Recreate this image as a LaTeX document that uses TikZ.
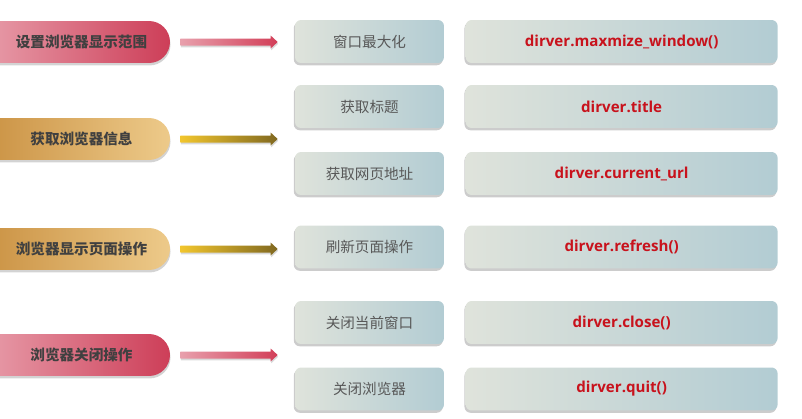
\documentclass[tikz,border=0pt]{standalone}
\usepackage{fontspec}
\setmainfont{Noto Sans CJK SC}
\newfontfamily\codefont{Open Sans}
\usetikzlibrary{positioning,calc,shadows}

\definecolor{redL}{RGB}{233,163,175}
\definecolor{redR}{RGB}{205,62,88}
\definecolor{goldL}{RGB}{200,142,62}
\definecolor{goldR}{RGB}{237,202,138}
\definecolor{arrRedL}{RGB}{232,160,172}
\definecolor{arrRedR}{RGB}{210,62,88}
\definecolor{arrGoldL}{RGB}{242,198,45}
\definecolor{arrGoldR}{RGB}{128,104,32}
\definecolor{boxL}{RGB}{223,227,219}
\definecolor{boxR}{RGB}{178,204,211}
\definecolor{txtgray}{RGB}{88,88,88}
\definecolor{codered}{RGB}{200,18,28}

\tikzset{
  pill/.style={rounded corners=0.42cm, minimum width=3.98cm, minimum height=0.84cm,
    font=\fontsize{8.3pt}{10pt}\selectfont\bfseries, text=black!75,
    execute at begin node=\hspace*{0.44cm},
    drop shadow={shadow xshift=0.3pt, shadow yshift=-1.4pt, opacity=0.35}},
  redpill/.style={pill, left color=redL, right color=redR},
  goldpill/.style={pill, left color=goldL, right color=goldR},
  stepbox/.style={rounded corners=0.12cm, minimum height=0.86cm,
    left color=boxL, right color=boxR,
    drop shadow={shadow xshift=-0.7pt, shadow yshift=-1.3pt, opacity=0.4}},
  actbox/.style={stepbox, minimum width=2.98cm, text=txtgray,
    font=\fontsize{8.3pt}{10pt}\selectfont},
  codebox/.style={stepbox, minimum width=6.24cm, text=codered,
    font=\fontsize{8.6pt}{10pt}\selectfont\codefont\bfseries}
}

% shaded arrow from a pill to the column of action boxes
\newcommand{\flowarrow}[4]{%
  \shade[left color=#3, right color=#4,
    drop shadow={shadow xshift=0.3pt, shadow yshift=-1pt, opacity=0.3}]
    ($(#1.east)+(10,-3.5)$) -- ($(#1.east -| #2.west)+(-24,-3.5)$)
    -- ($(#1.east -| #2.west)+(-24,-6.5)$) -- ($(#1.east -| #2.west)+(-17,0)$)
    -- ($(#1.east -| #2.west)+(-24,6.5)$) -- ($(#1.east -| #2.west)+(-24,3.5)$)
    -- ($(#1.east)+(10,3.5)$) -- cycle;}

\begin{document}
\begin{tikzpicture}[x=0.02cm, y=-0.02cm]
  \useasboundingbox (0,0) rectangle (802,419);
  \clip (0,0) rectangle (802,419);

  % categories
  \node[redpill]  (p1) at (70.5,42)  {设置浏览器显示范围};
  \node[goldpill] (p2) at (70.5,139) {获取浏览器信息};
  \node[goldpill] (p3) at (70.5,249) {浏览器显示页面操作};
  \node[redpill]  (p4) at (70.5,355) {浏览器关闭操作};

  % actions
  \node[actbox] (m1) at (369.5,41.5)  {窗口最大化};
  \node[actbox] (m2) at (369.5,106.5) {获取标题};
  \node[actbox] (m3) at (369.5,173.5) {获取网页地址};
  \node[actbox] (m4) at (369.5,247)   {刷新页面操作};
  \node[actbox] (m5) at (369.5,322.5) {关闭当前窗口};
  \node[actbox] (m6) at (369.5,389)   {关闭浏览器};

  % code
  \node[codebox, right=0.42cm of m1] (c1) {dirver.maxmize\_window()};
  \node[codebox, right=0.42cm of m2] (c2) {dirver.title};
  \node[codebox, right=0.42cm of m3] (c3) {dirver.current\_url};
  \node[codebox, right=0.42cm of m4] (c4) {dirver.refresh()};
  \node[codebox, right=0.42cm of m5] (c5) {dirver.close()};
  \node[codebox, right=0.42cm of m6] (c6) {dirver.quit()};

  \flowarrow{p1}{m1}{arrRedL}{arrRedR}
  \flowarrow{p2}{m2}{arrGoldL}{arrGoldR}
  \flowarrow{p3}{m4}{arrGoldL}{arrGoldR}
  \flowarrow{p4}{m5}{arrRedL}{arrRedR}
\end{tikzpicture}
\end{document}
